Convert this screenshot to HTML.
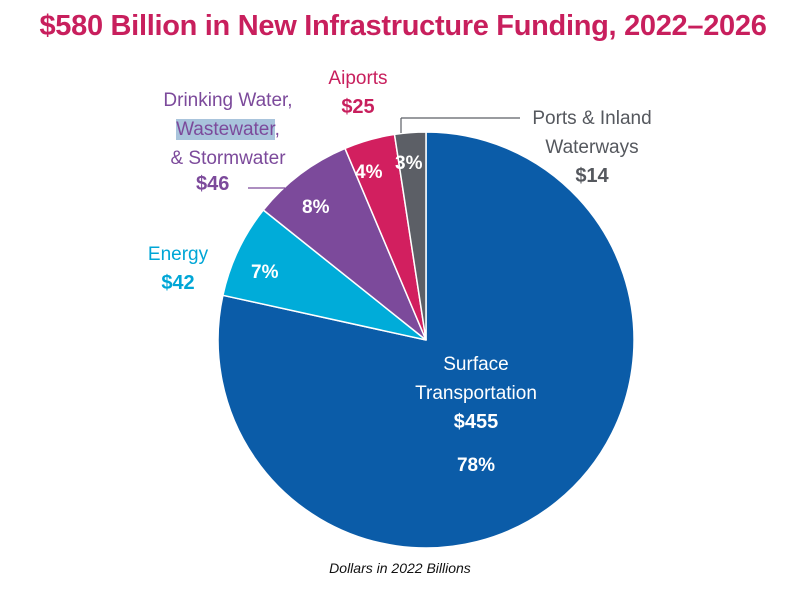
<!DOCTYPE html>
<html><head><meta charset="utf-8"><style>
html,body{margin:0;padding:0;background:#fff;}
body{width:800px;height:594px;position:relative;overflow:hidden;font-family:"Liberation Sans",sans-serif;}
.t{position:absolute;white-space:nowrap;}
</style></head><body>
<div class="t" style="left:0;width:806px;top:10px;text-align:center;font-size:29px;font-weight:bold;color:#c81f5d;letter-spacing:-0.3px;">$580 Billion in New Infrastructure Funding, 2022–2026</div>
<svg width="800" height="594" style="position:absolute;left:0;top:0">
<g stroke="#fff" stroke-width="1.5">
<path d="M426,340 L426,132 A208,208 0 1,1 222.9,295.3 Z" fill="#0b5ca8"/>
<path d="M426,340 L222.9,295.3 A208,208 0 0,1 263.3,210.0 Z" fill="#00acd9"/>
<path d="M426,340 L263.3,210.0 A208,208 0 0,1 345.0,148.4 Z" fill="#7c4a9b"/>
<path d="M426,340 L345.0,148.4 A208,208 0 0,1 394.5,134.4 Z" fill="#d21f5f"/>
<path d="M426,340 L394.5,134.4 A208,208 0 0,1 426,132 Z" fill="#5c5f66"/>
</g>
<line x1="248" y1="188" x2="285" y2="188" stroke="#7c4a9b" stroke-width="1.2"/>
<line x1="401" y1="118" x2="401" y2="133" stroke="#5c5f66" stroke-width="1.2"/>
<line x1="401" y1="118" x2="520" y2="118" stroke="#5c5f66" stroke-width="1.2"/>
</svg>
<div class="t" style="left:128px;top:86px;font-size:19px;color:#7c4a9b;line-height:29px;text-align:center;width:200px;">Drinking Water,<br><span style="background:#a9c4dc;color:#7c4a9b">Wastewater</span>,<br>&amp; Stormwater</div>
<div class="t" style="left:196px;top:173px;font-size:20px;font-weight:bold;color:#7c4a9b;">$46</div>
<div class="t" style="left:320px;top:65px;font-size:19px;color:#c81f5d;line-height:28px;text-align:center;width:76px;">Aiports<br><b style="font-size:20px">$25</b></div>
<div class="t" style="left:522px;top:104px;font-size:19px;color:#55585e;line-height:29px;text-align:center;width:140px;">Ports &amp; Inland<br>Waterways<br><b style="font-size:20px">$14</b></div>
<div class="t" style="left:143px;top:241px;font-size:19px;color:#00a6d6;line-height:28px;text-align:center;width:70px;">Energy<br><b style="font-size:20px">$42</b></div>
<div class="t" style="left:251px;top:262px;font-size:19px;font-weight:bold;color:#fff;">7%</div>
<div class="t" style="left:302px;top:197px;font-size:19px;font-weight:bold;color:#fff;">8%</div>
<div class="t" style="left:355px;top:162px;font-size:19px;font-weight:bold;color:#fff;">4%</div>
<div class="t" style="left:395px;top:153px;font-size:19px;font-weight:bold;color:#fff;">3%</div>
<div class="t" style="left:376px;top:350px;width:200px;text-align:center;font-size:19px;color:#fff;line-height:29px;">Surface<br>Transportation<br><b style="font-size:20px">$455</b></div>
<div class="t" style="left:376px;top:455px;width:200px;text-align:center;font-size:19px;font-weight:bold;color:#fff;">78%</div>
<div class="t" style="left:0;width:800px;top:560px;text-align:center;font-size:14px;font-style:italic;color:#111;">Dollars in 2022 Billions</div>
</body></html>
